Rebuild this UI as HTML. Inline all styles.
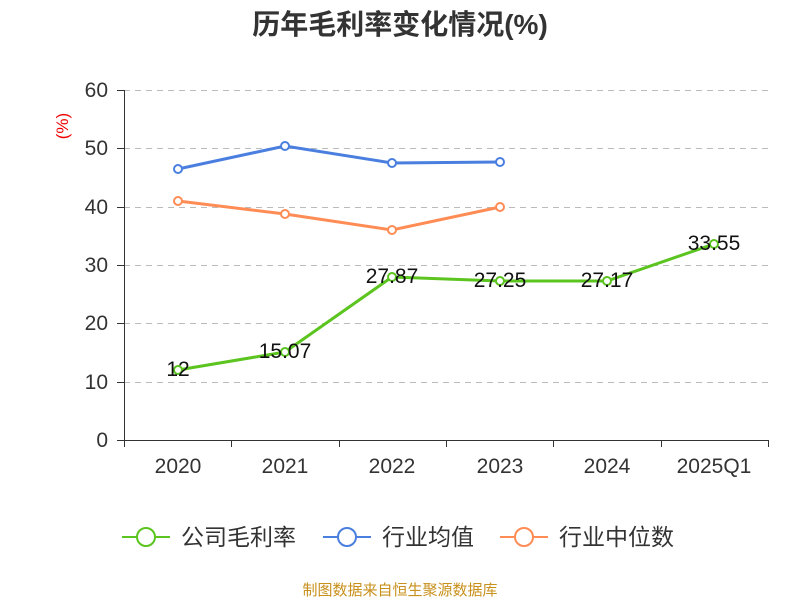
<!DOCTYPE html>
<html><head><meta charset="utf-8"><style>
body{margin:0;background:#fff;}
svg text{font-family:"Liberation Sans","Noto Sans CJK SC",sans-serif;}
</style></head><body>
<svg width="800" height="600" viewBox="0 0 800 600">
<text x="400" y="34" text-anchor="middle" font-size="28" font-weight="bold" fill="#333">历年毛利率变化情况(%)</text>
<text x="68" y="126" font-size="17" fill="#e00" transform="rotate(-90 68 126)" text-anchor="middle">(%)</text>
<g stroke="#bbb" stroke-dasharray="6,5" stroke-width="1">
<line x1="124" x2="768" y1="90.5" y2="90.5"/><line x1="124" x2="768" y1="148.5" y2="148.5"/>
<line x1="124" x2="768" y1="207.5" y2="207.5"/><line x1="124" x2="768" y1="265.5" y2="265.5"/>
<line x1="124" x2="768" y1="323.5" y2="323.5"/><line x1="124" x2="768" y1="382.5" y2="382.5"/>
</g>
<g stroke="#333" stroke-width="1">
<line x1="124.5" x2="124.5" y1="90" y2="440"/>
<line x1="124" x2="768" y1="440.5" y2="440.5"/>
<line x1="117" x2="124" y1="90.5" y2="90.5"/><line x1="117" x2="124" y1="148.5" y2="148.5"/>
<line x1="117" x2="124" y1="207.5" y2="207.5"/><line x1="117" x2="124" y1="265.5" y2="265.5"/>
<line x1="117" x2="124" y1="323.5" y2="323.5"/><line x1="117" x2="124" y1="382.5" y2="382.5"/>
<line x1="117" x2="124" y1="440.5" y2="440.5"/>
<line x1="124.5" x2="124.5" y1="440" y2="447"/><line x1="231.5" x2="231.5" y1="440" y2="447"/>
<line x1="339.5" x2="339.5" y1="440" y2="447"/><line x1="446.5" x2="446.5" y1="440" y2="447"/>
<line x1="553.5" x2="553.5" y1="440" y2="447"/><line x1="661.5" x2="661.5" y1="440" y2="447"/>
<line x1="768.5" x2="768.5" y1="440" y2="447"/>
</g>
<g font-size="21" fill="#333" text-anchor="end">
<text x="108" y="97">60</text><text x="108" y="155">50</text><text x="108" y="214">40</text>
<text x="108" y="272">30</text><text x="108" y="330">20</text><text x="108" y="389">10</text><text x="108" y="447">0</text>
</g>
<g font-size="21" fill="#333" text-anchor="middle">
<text x="178" y="473">2020</text><text x="285" y="473">2021</text><text x="392" y="473">2022</text>
<text x="500" y="473">2023</text><text x="607" y="473">2024</text><text x="714" y="473">2025Q1</text>
</g>
<polyline fill="none" stroke="#4a7fe0" stroke-width="3" points="178,169 285,146 392,163 500,162"/>
<polyline fill="none" stroke="#ff8c55" stroke-width="3" points="178,201 285,214 392,230 500,207"/>
<polyline fill="none" stroke="#5bc41f" stroke-width="3" points="178,370 285,352 392,277 500,281 607,281 714,244"/>
<g fill="#fff" stroke-width="2">
<g stroke="#4a7fe0"><circle cx="178" cy="169" r="4"/><circle cx="285" cy="146" r="4"/><circle cx="392" cy="163" r="4"/><circle cx="500" cy="162" r="4"/></g>
<g stroke="#ff8c55"><circle cx="178" cy="201" r="4"/><circle cx="285" cy="214" r="4"/><circle cx="392" cy="230" r="4"/><circle cx="500" cy="207" r="4"/></g>
<g stroke="#5bc41f"><circle cx="178" cy="370" r="4"/><circle cx="285" cy="352" r="4"/><circle cx="392" cy="277" r="4"/><circle cx="500" cy="281" r="4"/><circle cx="607" cy="281" r="4"/><circle cx="714" cy="244" r="4"/></g>
</g>
<g font-size="21" fill="#111" text-anchor="middle">
<text x="178" y="376">12</text><text x="285" y="358">15.07</text><text x="392" y="283">27.87</text>
<text x="500" y="287">27.25</text><text x="607" y="287">27.17</text><text x="714" y="250">33.55</text>
</g>
<g stroke-width="2" fill="#fff">
<line x1="122" x2="170" y1="537" y2="537" stroke="#5bc41f"/><circle cx="146" cy="537" r="9" stroke="#5bc41f"/>
<line x1="323" x2="371" y1="537" y2="537" stroke="#4a7fe0"/><circle cx="347" cy="537" r="9" stroke="#4a7fe0"/>
<line x1="500" x2="548" y1="537" y2="537" stroke="#ff8c55"/><circle cx="524" cy="537" r="9" stroke="#ff8c55"/>
</g>
<g font-size="23" fill="#333">
<text x="181" y="545">公司毛利率</text><text x="382" y="545">行业均值</text><text x="559" y="545">行业中位数</text>
</g>
<text x="400" y="595" text-anchor="middle" font-size="15" fill="#c8901c">制图数据来自恒生聚源数据库</text>
</svg>
</body></html>
